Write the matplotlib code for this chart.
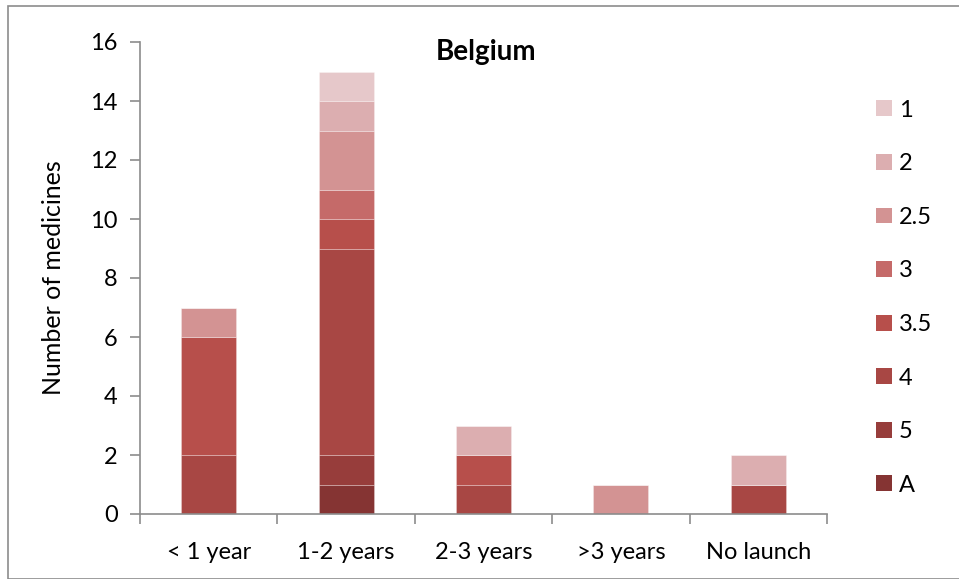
import numpy as np
import matplotlib
matplotlib.use("Agg")
import matplotlib.pyplot as plt
from matplotlib.patches import Rectangle

plt.rcParams["font.family"] = ["Lato", "DejaVu Sans"]

categories = ["< 1 year", "1-2 years", "2-3 years", ">3 years", "No launch"]
# stacked from bottom to top
series = ["A", "5", "4", "3.5", "3", "2.5", "2", "1"]
counts_A = [0, 1, 0, 0, 0]
counts_5 = [0, 1, 0, 0, 0]
counts_4 = [2, 7, 1, 0, 1]
counts_35 = [4, 1, 1, 0, 0]
counts_3 = [0, 1, 0, 0, 0]
counts_25 = [1, 2, 0, 1, 0]
counts_2 = [0, 1, 1, 0, 1]
counts_1 = [0, 1, 0, 0, 0]
colors = ["#853433", "#973d3b", "#a84744", "#b74f4b",
          "#c56a69", "#d39393", "#dcaeb0", "#e6c8ca"]

data = [counts_A, counts_5, counts_4, counts_35, counts_3, counts_25, counts_2, counts_1]

fig = plt.figure(figsize=(9.59, 5.79), dpi=100)
ax = fig.add_axes([140 / 959, 1 - 514 / 579, 687 / 959, 472 / 579])

x = np.arange(len(categories))
bottom = np.zeros(len(categories))
handles = []
for name, vals, col in zip(series, data, colors):
    vals = np.array(vals, dtype=float)
    h = ax.bar(x, vals, width=0.4, bottom=bottom, color=col,
               edgecolor=(1, 1, 1, 0.3), linewidth=0.6, label=name)
    handles.append(h)
    bottom += vals

ax.set_xlim(-0.5, len(categories) - 0.5)
ax.set_ylim(0, 16)
ax.set_yticks(range(0, 17, 2))
ax.set_xticks(x)
ax.set_xticklabels(categories)
ax.set_xticks(np.arange(-0.5, len(categories)), minor=True)
ax.tick_params(axis="x", which="major", length=0, pad=20)
ax.tick_params(axis="x", which="minor", length=7, width=1.2, color="#8c8c8c")
ax.tick_params(axis="y", length=7, width=1.2, color="#8c8c8c", pad=9)
ax.tick_params(labelsize=17)
for s in ["top", "right"]:
    ax.spines[s].set_visible(False)
for s in ["left", "bottom"]:
    ax.spines[s].set_color("#8c8c8c")
    ax.spines[s].set_linewidth(1.2)

ax.set_ylabel("Number of medicines", fontsize=18, labelpad=18)
ax.text(0.503, 0.979, "Belgium", transform=ax.transAxes, ha="center", va="center",
        fontsize=20, fontweight="bold")

leg = ax.legend(handles[::-1], series[::-1], loc="upper left",
                bbox_to_anchor=(1.058, 0.898), frameon=False, fontsize=17,
                handlelength=0.65, handleheight=0.65, handletextpad=0.3,
                labelspacing=1.38, borderaxespad=0)
for p in leg.get_patches():
    p.set_edgecolor("none")

# outer chart frame
fig.patches.append(Rectangle((8 / 959, 0), 1, 1 - 6 / 579, transform=fig.transFigure,
                             fill=False, edgecolor="#8c8c8c", linewidth=1.2))

fig.savefig("out.png", dpi=100)
